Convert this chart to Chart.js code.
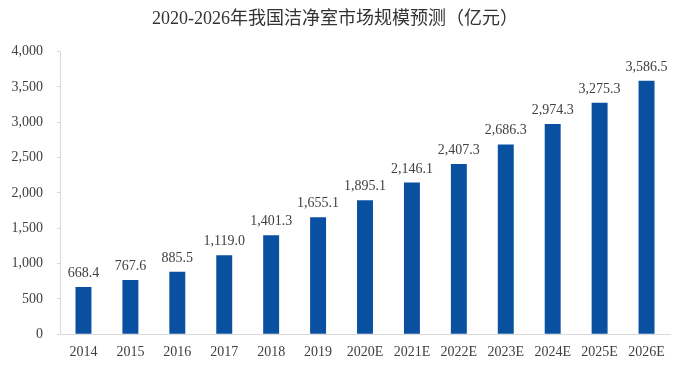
<!DOCTYPE html>
<html>
<head>
<meta charset="utf-8">
<script src="https://cdn.jsdelivr.net/npm/chart.js@4/dist/chart.umd.min.js"></script>
<style>
  html, body { margin: 0; padding: 0; background: #fff; }
  #wrap { width: 677px; height: 370px; }
</style>
</head>
<body>
<div id="wrap"><canvas id="chart" width="677" height="370"></canvas></div>
<script>
// ===== Data =====
const years = ['2014', '2015', '2016', '2017', '2018', '2019', '2020E', '2021E', '2022E', '2023E', '2024E', '2025E', '2026E'];
const marketSize = [668.4, 767.6, 885.5, 1119.0, 1401.3, 1655.1, 1895.1, 2146.1, 2407.3, 2686.3, 2974.3, 3275.3, 3586.5];
const yTicks = [0, 500, 1000, 1500, 2000, 2500, 3000, 3500, 4000];
const chartTitle = '2020-2026年我国洁净室市场规模预测（亿元）';

const serif = '"Liberation Serif", "Times New Roman", "Noto Sans CJK SC", serif';
const fmt = v => v.toLocaleString('en-US', { minimumFractionDigits: 1, maximumFractionDigits: 1 });

// value labels above bars
const barLabels = {
  id: 'barLabels',
  afterDatasetsDraw(chart) {
    const ctx = chart.ctx;
    const meta = chart.getDatasetMeta(0);
    ctx.save();
    ctx.font = '14px ' + serif;
    ctx.fillStyle = '#404040';
    ctx.textAlign = 'center';
    ctx.textBaseline = 'alphabetic';
    meta.data.forEach((bar, i) => {
      ctx.fillText(fmt(marketSize[i]), bar.x, bar.y - 10);
    });
    ctx.restore();
  }
};

new Chart(document.getElementById('chart').getContext('2d'), {
  type: 'bar',
  data: {
    labels: years,
    datasets: [{
      data: marketSize,
      backgroundColor: '#0a50a1',
      barPercentage: 0.68,
      categoryPercentage: 0.5
    }]
  },
  options: {
    responsive: false,
    animation: false,
    layout: { padding: { left: 0, right: 7, top: 8, bottom: 7 } },
    plugins: {
      legend: { display: false },
      tooltip: { enabled: false },
      title: {
        display: true,
        text: chartTitle,
        color: '#333',
        font: { family: serif, size: 18, weight: 'normal' },
        padding: { top: 0, bottom: 22 }
      }
    },
    scales: {
      x: {
        grid: { display: false },
        border: { display: true, color: '#d9d9d9' },
        ticks: { color: '#404040', font: { family: serif, size: 14 }, maxRotation: 0, padding: 2 }
      },
      y: {
        min: 0,
        max: 4000,
        afterBuildTicks: s => { s.ticks = yTicks.map(v => ({ value: v })); },
        afterFit: s => { s.width = 60; },
        grid: { display: true, drawOnChartArea: false, color: '#d9d9d9', tickLength: 3 },
        border: { display: true, color: '#d9d9d9' },
        ticks: {
          color: '#404040',
          font: { family: serif, size: 14 },
          padding: 14,
          callback: v => v.toLocaleString('en-US')
        }
      }
    }
  },
  plugins: [barLabels]
});
</script>
</body>
</html>
